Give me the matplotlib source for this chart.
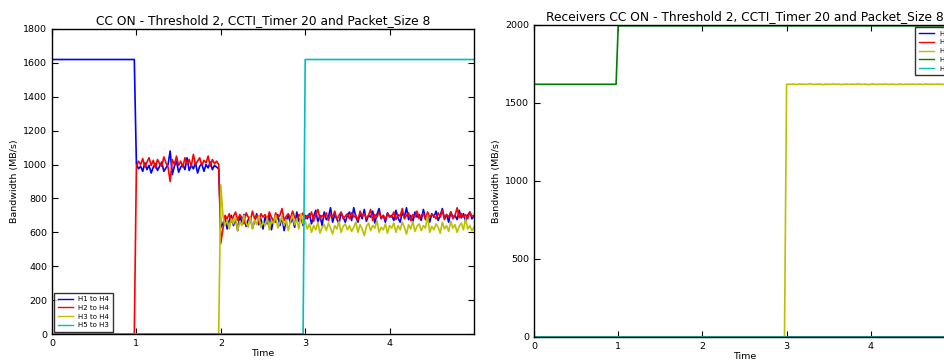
import numpy as np
import matplotlib
matplotlib.use("Agg")
import matplotlib.pyplot as plt

# ---- sample times (s) ----
step = 0.025
times = np.arange(201) * step

# ---- sender bandwidth (MB/s) ----
h1_start = [1620] * 40
h1_phase1 = [1000, 975, 990, 960, 1010, 970, 995, 950, 985, 1005, 965, 990, 1015, 960, 980, 1000,
             1080, 940, 990, 1020, 955, 985, 1000, 970, 1040, 965, 995, 975, 1010, 950, 990, 1005,
             960, 1000, 980, 1015, 970, 995, 985, 975]
h1_phase2 = [630,
             650, 690, 620, 670, 700, 640, 680, 610, 695, 660, 705, 635, 675, 690, 625, 665, 710, 645, 680, 620,
             690, 650, 700, 615, 675, 660, 705, 640, 690, 610, 670, 700, 655, 685, 630, 720, 665, 690, 640, 700,
             680, 710, 650, 695, 730, 660, 700, 640, 720, 675, 690, 745, 660, 705, 680, 650, 715, 690, 660, 700,
             720, 670, 745, 690, 660, 710, 680, 735, 665, 700, 690, 725, 655, 705, 740, 680, 700, 660, 715, 690,
             700, 670, 730, 685, 660, 715, 690, 745, 675, 700, 660, 720, 690, 705, 670, 735, 685, 700, 660, 710,
             690, 725, 670, 700, 740, 680, 705, 660, 720, 690, 700, 675, 730, 685, 710, 665, 700, 720, 680, 695]

h2_start = [0] * 40
h2_phase1 = [990, 1020, 1000, 1035, 985, 1015, 1040, 995, 1025, 980, 1030, 1005, 990, 1045, 1010, 985,
             900, 1030, 1000, 1050, 995, 1020, 985, 1040, 1005, 1030, 990, 1060, 1000, 1020, 1040, 995,
             1025, 1010, 1050, 990, 1030, 1005, 1020, 1000]
h2_phase2 = [535,
             620, 700, 680, 710, 660, 695, 720, 670, 705, 685, 650, 715, 690, 670, 725, 680, 700, 660, 710, 690,
             705, 675, 720, 690, 660, 715, 685, 700, 740, 670, 695, 710, 680, 725, 690, 665, 705, 690, 715, 680,
             700, 690, 720, 665, 705, 735, 680, 700, 690, 715, 670, 705, 690, 725, 675, 700, 720, 680, 695, 710,
             680, 715, 690, 700, 670, 725, 695, 710, 680, 700, 735, 670, 705, 690, 720, 685, 700, 675, 710, 695,
             690, 720, 675, 705, 695, 740, 680, 700, 715, 670, 705, 690, 725, 680, 700, 710, 675, 720, 690, 705,
             700, 680, 715, 690, 730, 675, 705, 690, 720, 680, 700, 745, 685, 710, 690, 705, 680, 720, 695, 700]

h3_start = [0] * 80
h3_phase2 = [880,
             700, 640, 670, 620, 680, 650, 690, 610, 665, 640, 700, 655, 630, 690, 620, 675, 645, 700, 630, 660,
             640, 685, 615, 670, 650, 700, 625, 660, 690, 640, 675, 610, 665, 700, 645, 680, 620, 710, 650, 665,
             620, 650, 600, 640, 615, 660, 595, 630, 645, 610, 655, 625, 590, 640, 620, 665, 600, 635, 650, 615,
             640, 605, 630, 660, 600, 645, 620, 580, 635, 655, 610, 640, 625, 670, 600, 630, 615, 650, 595, 640,
             625, 655, 600, 640, 615, 660, 630, 590, 645, 620, 665, 605, 635, 650, 610, 640, 625, 700, 600, 635,
             615, 650, 630, 595, 660, 620, 640, 605, 665, 625, 645, 600, 635, 655, 615, 680, 620, 640, 610, 630]

h5_start = [0] * 120
h5_phase3 = [1620] * 81

h1_to_h4 = h1_start + h1_phase1 + h1_phase2
h2_to_h4 = h2_start + h2_phase1 + h2_phase2
h3_to_h4 = h3_start + h3_phase2
h5_to_h3 = h5_start + h5_phase3

# ---- receiver bandwidth (MB/s) ----
rx_h1 = [0] * 201
rx_h2 = [0] * 201
rx_h3 = [0] * 120 + [1620, 1621, 1619, 1622, 1620, 1618, 1623, 1620, 1621, 1619, 1620, 1624, 1620, 1619, 1621,
                     1620, 1622, 1618, 1620, 1621, 1620, 1619, 1623, 1620, 1620, 1621, 1618, 1620, 1622, 1620,
                     1619, 1621, 1620, 1620, 1624, 1619, 1620, 1621, 1620, 1618, 1620, 1622, 1620, 1619, 1621,
                     1620, 1620, 1623, 1619, 1620, 1621, 1620, 1618, 1620, 1622, 1620, 1619, 1621, 1620, 1620,
                     1622, 1619, 1620, 1621, 1620, 1618, 1623, 1620, 1620, 1621, 1619, 1620, 1622, 1620, 1619,
                     1621, 1620, 1620, 1622, 1619, 1620]
rx_h4 = [1620] * 40 + [1995] * 161
rx_h5 = [0] * 201

sender_labels = ["H1 to H4", "H2 to H4", "H3 to H4", "H5 to H3"]
receiver_labels = ["H1", "H2", "H3", "H4", "H5"]

plt.rcParams.update({
    "font.family": "DejaVu Sans",
    "xtick.direction": "in",
    "ytick.direction": "in",
    "xtick.top": True,
    "ytick.right": True,
    "xtick.major.size": 4,
    "ytick.major.size": 4,
    "xtick.labelsize": 6.8,
    "ytick.labelsize": 6.8,
    "axes.linewidth": 1.0,
    "lines.linewidth": 1.2,
})

fig = plt.figure(figsize=(9.45, 3.61), dpi=100)
fig.patch.set_facecolor("white")

ax1 = fig.add_axes([52 / 945, 27 / 361, 422 / 945, 305 / 361])
ax1.plot(times, h1_to_h4, color="b", label=sender_labels[0])
ax1.plot(times, h2_to_h4, color="r", label=sender_labels[1])
ax1.plot(times, h3_to_h4, color=(0.75, 0.75, 0), label=sender_labels[2])
ax1.plot(times, h5_to_h3, color=(0, 0.75, 0.75), label=sender_labels[3])
ax1.set_xlim(0, 5)
ax1.set_ylim(0, 1800)
ax1.set_xticks([0, 1, 2, 3, 4])
ax1.set_yticks(range(0, 1801, 200))
ax1.set_title("CC ON - Threshold 2, CCTI_Timer 20 and Packet_Size 8", fontsize=8.8, pad=3.5)
ax1.set_xlabel("Time", fontsize=6.8, labelpad=1)
ax1.set_ylabel("Bandwidth (MB/s)", fontsize=6.8, labelpad=3)
leg1 = ax1.legend(loc="lower left", fontsize=5, handlelength=2.2, fancybox=False,
                  borderaxespad=0.3, labelspacing=0.4, borderpad=0.5)
leg1.get_frame().set_edgecolor("black")
for line in leg1.get_lines():
    line.set_linewidth(1.0)

ax2 = fig.add_axes([534 / 945, 24 / 361, 421 / 945, 312 / 361])
ax2.plot(times, rx_h1, color="b", label=receiver_labels[0])
ax2.plot(times, rx_h2, color="r", label=receiver_labels[1])
ax2.plot(times, rx_h3, color=(0.75, 0.75, 0), label=receiver_labels[2])
ax2.plot(times, rx_h4, color=(0, 0.5, 0), label=receiver_labels[3])
ax2.plot(times, rx_h5, color=(0, 0.75, 0.75), label=receiver_labels[4])
ax2.set_xlim(0, 5)
ax2.set_ylim(0, 2000)
ax2.set_xticks([0, 1, 2, 3, 4])
ax2.set_yticks(range(0, 2001, 500))
ax2.set_title("Receivers CC ON - Threshold 2, CCTI_Timer 20 and Packet_Size 8", fontsize=8.8, pad=3.5)
ax2.set_xlabel("Time", fontsize=6.8, labelpad=1)
ax2.set_ylabel("Bandwidth (MB/s)", fontsize=6.8, labelpad=3)
leg2 = ax2.legend(loc="upper right", fontsize=5, handlelength=2.2, fancybox=False,
                  borderaxespad=0.3, labelspacing=0.4, borderpad=0.5)
leg2.get_frame().set_edgecolor("black")
for line in leg2.get_lines():
    line.set_linewidth(1.0)

fig.savefig("out.png", dpi=100, facecolor="white")
